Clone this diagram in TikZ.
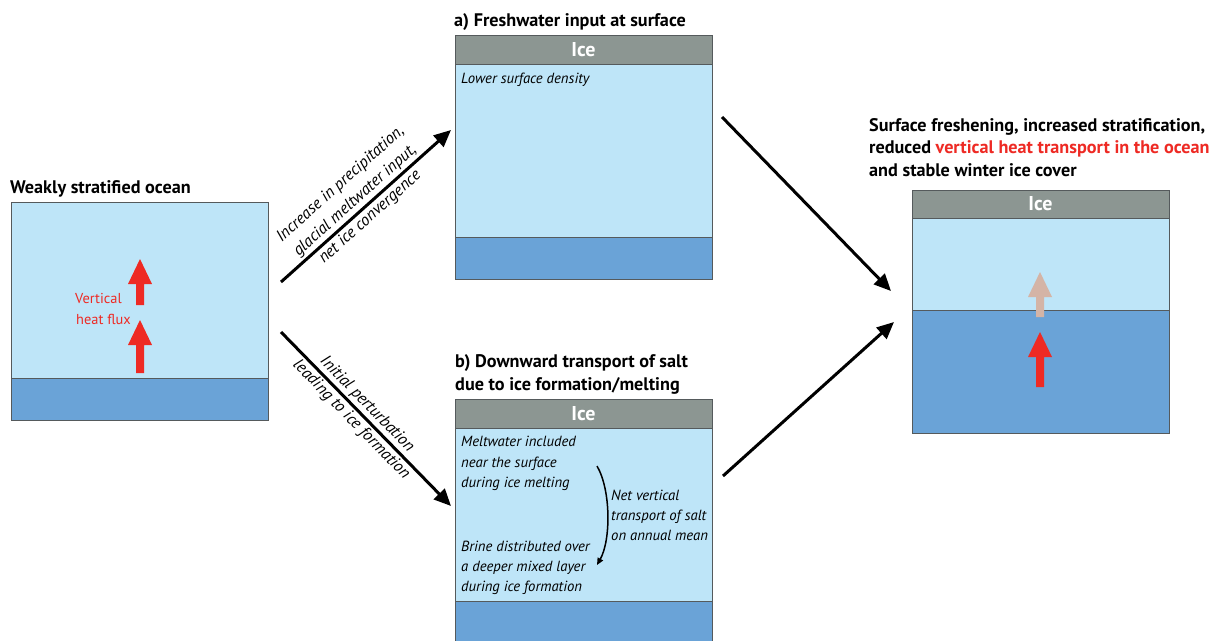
\documentclass[tikz,border=0pt]{standalone}
\usepackage{fontspec}
\setmainfont{PT Sans}
\usetikzlibrary{arrows.meta}
\definecolor{lightw}{HTML}{BEE5F8}
\definecolor{darkw}{HTML}{6AA3D7}
\definecolor{icegrey}{HTML}{8C9692}
\definecolor{hred}{HTML}{EE2A24}
\definecolor{hfade}{HTML}{D4B4A6}
\definecolor{edgegrey}{HTML}{555A5C}
\tikzset{
  titletext/.style={anchor=base west,inner sep=0pt,font=\fontsize{18.2}{22}\selectfont\bfseries},
  bodytext/.style={anchor=base west,inner sep=0pt,font=\fontsize{14.7}{17}\selectfont\itshape},
  icetext/.style={inner sep=0pt,text=white,font=\fontsize{20}{22}\selectfont\bfseries},
  heattext/.style={anchor=base west,inner sep=0pt,text=hred,font=\fontsize{14.4}{17}\selectfont},
  armlabel/.style={inner sep=0pt,align=center,sloped,font=\fontsize{16.5}{22}\selectfont\itshape},
  layerlight/.style={fill=lightw,draw=edgegrey,line width=0.8pt},
  layerdark/.style={fill=darkw,draw=edgegrey,line width=0.8pt},
  layerice/.style={fill=icegrey,draw=edgegrey,line width=0.8pt},
  flowarrow/.style={line width=3pt,-{Triangle[length=17pt,width=15pt]}},
  pics/heat/.style={code={
    \fill (0,0) -- (12,25) -- (4,25) -- (4,#1) -- (-4,#1) -- (-4,25) -- (-12,25) -- cycle;
  }}
}
\begin{document}
\begin{tikzpicture}[x=1pt,y=-1pt]
\useasboundingbox[fill=white] (0,0) rectangle (1217,640);

% ---- left box: weakly stratified ocean
\node[titletext] (t0) at (10,193) {Weakly stratified ocean};
\filldraw[layerlight] (11,202) rectangle (268,378);
\filldraw[layerdark] (11,378) rectangle (268,420);
\pic[fill=hred] at (140,259) {heat=46};
\pic[fill=hred] at (140,320) {heat=53};
\node[heattext] (vh1) at (75,303) {Vertical};
\node[heattext] (vh2) at (76,324) {heat flux};

% ---- box a
\node[titletext] (ta) at (454,26) {a) Freshwater input at surface};
\filldraw[layerice] (455,35) rectangle (712,64);
\filldraw[layerlight] (455,64) rectangle (712,237);
\filldraw[layerdark] (455,237) rectangle (712,279);
\node[icetext] (icea) at (583.5,49.5) {Ice};
\node[bodytext] (lsd) at (461,83) {Lower surface density};

% ---- box b
\node[titletext] (tb1) at (455,367) {b) Downward transport of salt};
\node[titletext] (tb2) at (455,390) {due to ice formation/melting};
\filldraw[layerice] (455,399) rectangle (712,428);
\filldraw[layerlight] (455,428) rectangle (712,601);
\filldraw[layerdark] (455,601) rectangle (712,645);
\node[icetext] (iceb) at (583.5,413.5) {Ice};
\node[bodytext] (m1) at (461,446) {Meltwater included};
\node[bodytext] (m2) at (461,467) {near the surface};
\node[bodytext] (m3) at (461,487) {during ice melting};
\node[bodytext] (b1) at (461,551) {Brine distributed over};
\node[bodytext] (b2) at (461,571) {a deeper mixed layer};
\node[bodytext] (b3) at (461,591) {during ice formation};
\node[bodytext] (n1) at (611,500) {Net vertical};
\node[bodytext] (n2) at (611,520) {transport of salt};
\node[bodytext] (n3) at (611,540) {on annual mean};
\coordinate (cs) at (597,466);
\coordinate (ce) at (597,565);
\draw[line width=1.5pt,-{Triangle[length=7pt,width=6pt]}] (cs) .. controls (611,490) and (611,540) .. (ce);

% ---- right box
\node[titletext] (tr1) at (869,131) {Surface freshening, increased stratification,};
\node[titletext] (tr2) at (869,153) {reduced \textcolor{hred}{vertical heat transport in the ocean}};
\node[titletext] (tr3) at (869,176) {and stable winter ice cover};
\filldraw[layerice] (912,190) rectangle (1169,218);
\filldraw[layerlight] (912,218) rectangle (1169,310);
\filldraw[layerdark] (912,310) rectangle (1169,433);
\node[icetext] (icer) at (1040.5,204) {Ice};
\pic[fill=hfade] at (1040,272) {heat=45};
\pic[fill=hred] at (1040,332) {heat=55};

% ---- connectors
\coordinate (s1) at (281,282);
\coordinate (e1) at (451,130);
\coordinate (s2) at (281,332);
\coordinate (e2) at (451,506);
\coordinate (s3) at (722,117);
\coordinate (e3) at (891,291);
\coordinate (s4) at (723,476);
\coordinate (e4) at (894,322);
\draw[flowarrow] (s1) -- (e1)
  node[armlabel,pos=0.48,above=2pt] (l1a) {Increase in precipitation,\\glacial meltwater input,}
  node[armlabel,pos=0.48,below=2pt] (l1b) {net ice convergence};
\draw[flowarrow] (s2) -- (e2)
  node[armlabel,pos=0.46,above=2pt] (l2a) {Initial perturbation}
  node[armlabel,pos=0.46,below=2pt] (l2b) {leading to ice formation};
\draw[flowarrow] (s3) -- (e3);
\draw[flowarrow] (s4) -- (e4);
\end{tikzpicture}
\end{document}
